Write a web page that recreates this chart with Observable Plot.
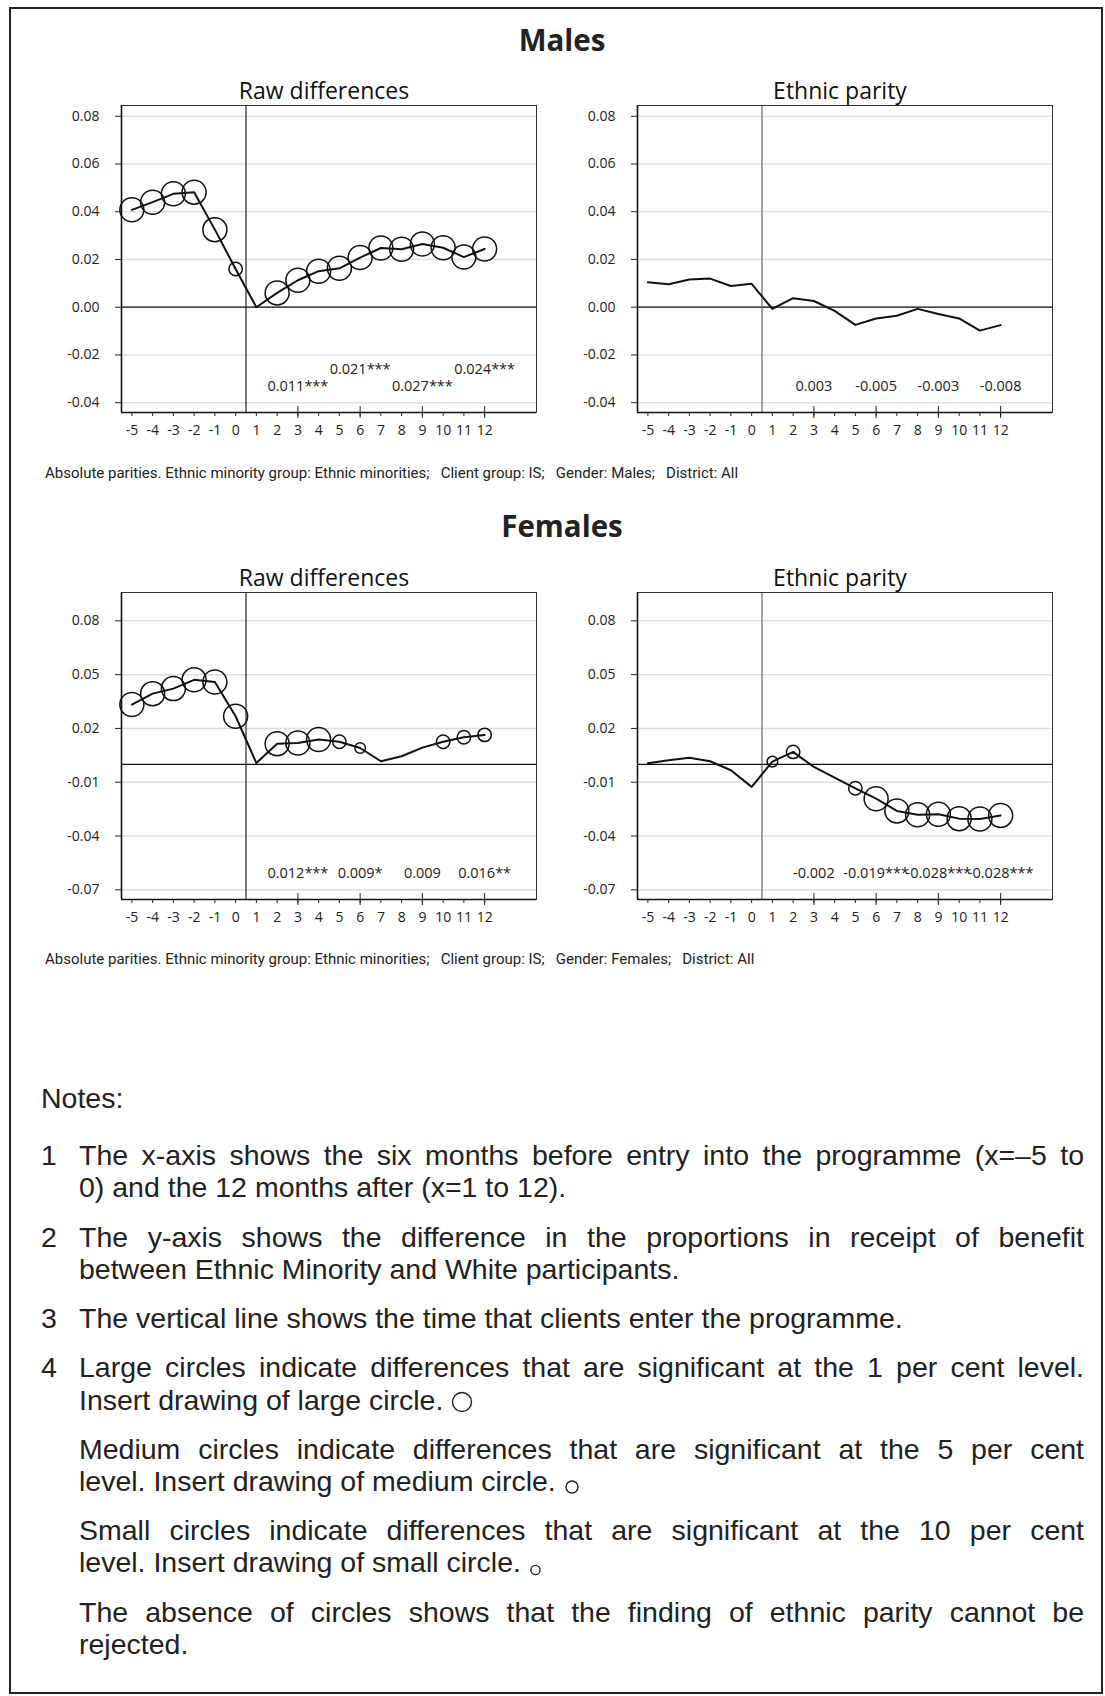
<!DOCTYPE html>
<html>
<head>
<meta charset="utf-8">
<script src="https://cdn.jsdelivr.net/npm/d3@7"></script>
<script src="https://cdn.jsdelivr.net/npm/@observablehq/plot@0.6"></script>
<style>
  html, body { margin: 0; padding: 0; background: #fff; }
  body { width: 1105px; height: 1696px; position: relative; overflow: hidden; font-family: "Open Sans", "Noto Sans", sans-serif; color: #222; }
  .border { position: absolute; left: 9px; top: 7px; width: 1094px; height: 1687px; border: 2px solid #222; box-sizing: border-box; }
  .gtitle { position: absolute; left: 0; width: 1124px; text-align: center; font-weight: 700; font-size: 29.5px; line-height: 30px; color: #222; }
  .panel { position: absolute; }
  .caption { position: absolute; left: 45px; font-size: 15px; line-height: 18px; color: #222; white-space: pre; font-family: "Roboto", "Open Sans", sans-serif; }
  .notes { position: absolute; left: 41px; top: 1082px; width: 1043px; font-family: "Liberation Sans", Arial, sans-serif; font-size: 28.5px; line-height: 32.4px; color: #222; }
  .notes .para { margin: 0 0 16.7px 0; position: relative; }
  .notes .head { margin-bottom: 24.7px; }
  .notes .body { padding-left: 38px; }
  .notes .num { position: absolute; left: 0; top: 0; }
  .notes .ln { display: block; white-space: nowrap; height: 32.4px; }
  .notes .ln.j { text-align: justify; text-align-last: justify; }
  .notes svg { vertical-align: middle; }
</style>
</head>
<body>
<div class="border"></div>
<div class="gtitle" style="top:25px">Males</div>
<div id="mRaw" class="panel" style="left:41px; top:65px"></div>
<div id="mPar" class="panel" style="left:557px; top:65px"></div>
<div class="caption" style="top:464px">Absolute parities. Ethnic minority group: Ethnic minorities;   Client group: IS;   Gender: Males;   District: All</div>
<div class="gtitle" style="top:511px">Females</div>
<div id="fRaw" class="panel" style="left:41px; top:552px"></div>
<div id="fPar" class="panel" style="left:557px; top:552px"></div>
<div class="caption" style="top:950px">Absolute parities. Ethnic minority group: Ethnic minorities;   Client group: IS;   Gender: Females;   District: All</div>

<div class="notes">
  <div class="para head">Notes:</div>
  <div class="para"><span class="num">1</span><div class="body">
    <span class="ln j">The x-axis shows the six months before entry into the programme (x=–5 to</span>
    <span class="ln">0) and the 12 months after (x=1 to 12).</span></div></div>
  <div class="para"><span class="num">2</span><div class="body">
    <span class="ln j">The y-axis shows the difference in the proportions in receipt of benefit</span>
    <span class="ln">between Ethnic Minority and White participants.</span></div></div>
  <div class="para"><span class="num">3</span><div class="body">
    <span class="ln">The vertical line shows the time that clients enter the programme.</span></div></div>
  <div class="para"><span class="num">4</span><div class="body">
    <span class="ln j">Large circles indicate differences that are significant at the 1 per cent level.</span>
    <span class="ln">Insert drawing of large circle. <svg width="22" height="22"><circle cx="11" cy="11" r="9.5" fill="none" stroke="#222" stroke-width="1.4"/></svg></span></div></div>
  <div class="para"><div class="body">
    <span class="ln j">Medium circles indicate differences that are significant at the 5 per cent</span>
    <span class="ln">level. Insert drawing of medium circle. <svg width="16" height="22"><circle cx="8" cy="15" r="6" fill="none" stroke="#222" stroke-width="1.4"/></svg></span></div></div>
  <div class="para"><div class="body">
    <span class="ln j">Small circles indicate differences that are significant at the 10 per cent</span>
    <span class="ln">level. Insert drawing of small circle. <svg width="13" height="22"><circle cx="6.5" cy="16" r="4.6" fill="none" stroke="#222" stroke-width="1.4"/></svg></span></div></div>
  <div class="para"><div class="body">
    <span class="ln j">The absence of circles shows that the finding of ethnic parity cannot be</span>
    <span class="ln">rejected.</span></div></div>
</div>

<script>
// ---- Data ----
const months = [-5, -4, -3, -2, -1, 0, 1, 2, 3, 4, 5, 6, 7, 8, 9, 10, 11, 12];

const maleRaw      = [0.0408, 0.0440, 0.0475, 0.0482, 0.0325, 0.0160, 0.0000, 0.0060, 0.0113, 0.0151, 0.0163, 0.0208, 0.0248, 0.0243, 0.0265, 0.0249, 0.0210, 0.0244];
const maleRawSig   = [3, 3, 3, 3, 3, 2, 0, 3, 3, 3, 3, 3, 3, 3, 3, 3, 3, 3];
const maleParity   = [0.0105, 0.0096, 0.0116, 0.0120, 0.0089, 0.0098, -0.0007, 0.0038, 0.0026, -0.0015, -0.0074, -0.0047, -0.0036, -0.0007, -0.0028, -0.0047, -0.0098, -0.0075];
const maleParitySig = [0, 0, 0, 0, 0, 0, 0, 0, 0, 0, 0, 0, 0, 0, 0, 0, 0, 0];

const femaleRaw    = [0.0333, 0.0394, 0.0422, 0.0471, 0.0459, 0.0268, 0.0007, 0.0115, 0.0119, 0.0138, 0.0126, 0.0091, 0.0017, 0.0045, 0.0093, 0.0126, 0.0151, 0.0164];
const femaleRawSig = [3, 3, 3, 3, 3, 3, 0, 3, 3, 3, 2, 1, 0, 0, 0, 2, 2, 2];
const femaleParity = [0.0006, 0.0022, 0.0037, 0.0017, -0.0033, -0.0126, 0.0015, 0.0069, -0.0015, -0.0074, -0.0134, -0.0192, -0.0260, -0.0281, -0.0279, -0.0303, -0.0305, -0.0285];
const femaleParitySig = [0, 0, 0, 0, 0, 0, 1, 2, 0, 0, 2, 3, 3, 3, 3, 3, 3, 3];

// annotated estimates at months 3, 6, 9, 12
const noteMonths = [3, 6, 9, 12];
const maleRawLabels      = ["0.011***", "0.021***", "0.027***", "0.024***"];
const maleRawRows        = [0, 1, 0, 1];
const maleParityLabels   = ["0.003", "-0.005", "-0.003", "-0.008"];
const femaleRawLabels    = ["0.012***", "0.009*", "0.009", "0.016**"];
const femaleParityLabels = ["-0.002", "-0.019***", "-0.028***", "-0.028***"];
const flatRows = [0, 0, 0, 0];

const maleTicks   = [0.08, 0.06, 0.04, 0.02, 0.00, -0.02, -0.04];
const femaleTicks = [0.08, 0.05, 0.02, -0.01, -0.04, -0.07];
const maleDomain   = [-0.0441, 0.0845];
const femaleDomain = [-0.0754, 0.0958];
const xDomain = [-5.5, 14.5];
const entryMonth = 0.5;

// circle radius by significance level (1 = 10%, 2 = 5%, 3 = 1%)
const radius = {1: 5.3, 2: 6.7, 3: 12};

function panel({title, values, sig, labels, rows, yDomain, yTicks, entryStroke}) {
  const data = months.map((m, i) => ({month: m, value: values[i], sig: sig[i]}));
  const notes = noteMonths.map((m, i) => ({month: m, text: labels[i], row: rows[i]}));
  return Plot.plot({
    width: 505, height: 387,
    marginLeft: 80, marginRight: 10, marginTop: 40, marginBottom: 40,
    style: {fontFamily: "'Open Sans', 'Noto Sans', sans-serif", color: "#222", background: "transparent", overflow: "visible"},
    x: {domain: xDomain, label: null},
    y: {domain: yDomain, label: null},
    marks: [
      Plot.gridY(yTicks, {stroke: "#dedede", strokeOpacity: 1, strokeWidth: 1.5}),
      Plot.ruleY([0], {stroke: "#111", strokeWidth: 1.2}),
      Plot.ruleX([entryMonth], {stroke: entryStroke, strokeWidth: 1.2}),
      Plot.line(data, {x: "month", y: "value", stroke: "#111", strokeWidth: 2}),
      ...[1, 2, 3].map(l => Plot.dot(data.filter(d => d.sig === l), {x: "month", y: "value", r: radius[l], stroke: "#111", strokeWidth: 1.5, fill: "none"})),
      Plot.text(notes.filter(d => d.row === 0), {x: "month", text: "text", frameAnchor: "bottom", dy: -22, fontSize: 14.5, fill: "#222"}),
      Plot.text(notes.filter(d => d.row === 1), {x: "month", text: "text", frameAnchor: "bottom", dy: -39, fontSize: 14.5, fill: "#222"}),
      Plot.frame({stroke: "#333", strokeWidth: 1}),
      Plot.ruleX([xDomain[0]], {stroke: "#111", strokeWidth: 1.6}),
      Plot.ruleY([yDomain[0]], {stroke: "#111", strokeWidth: 1.6}),
      Plot.axisY(yTicks, {tickSize: 6, tickPadding: 16, tickFormat: d => d.toFixed(2), fontSize: 14, label: null}),
      Plot.axisX(months, {tickSize: 4, tickPadding: 9, tickFormat: d => String(d), fontSize: 14, label: null}),
      Plot.axisX(noteMonths, {tickSize: 12, dy: -6, tickFormat: () => "", label: null}),
      Plot.text([title], {frameAnchor: "top", lineAnchor: "bottom", dy: -7, dx: -5, fontSize: 23, fill: "#111"})
    ]
  });
}

document.getElementById("mRaw").append(panel({title: "Raw differences", values: maleRaw, sig: maleRawSig, labels: maleRawLabels, rows: maleRawRows, yDomain: maleDomain, yTicks: maleTicks, entryStroke: "#222"}));
document.getElementById("mPar").append(panel({title: "Ethnic parity", values: maleParity, sig: maleParitySig, labels: maleParityLabels, rows: flatRows, yDomain: maleDomain, yTicks: maleTicks, entryStroke: "#666"}));
document.getElementById("fRaw").append(panel({title: "Raw differences", values: femaleRaw, sig: femaleRawSig, labels: femaleRawLabels, rows: flatRows, yDomain: femaleDomain, yTicks: femaleTicks, entryStroke: "#222"}));
document.getElementById("fPar").append(panel({title: "Ethnic parity", values: femaleParity, sig: femaleParitySig, labels: femaleParityLabels, rows: flatRows, yDomain: femaleDomain, yTicks: femaleTicks, entryStroke: "#666"}));
</script>
</body>
</html>
